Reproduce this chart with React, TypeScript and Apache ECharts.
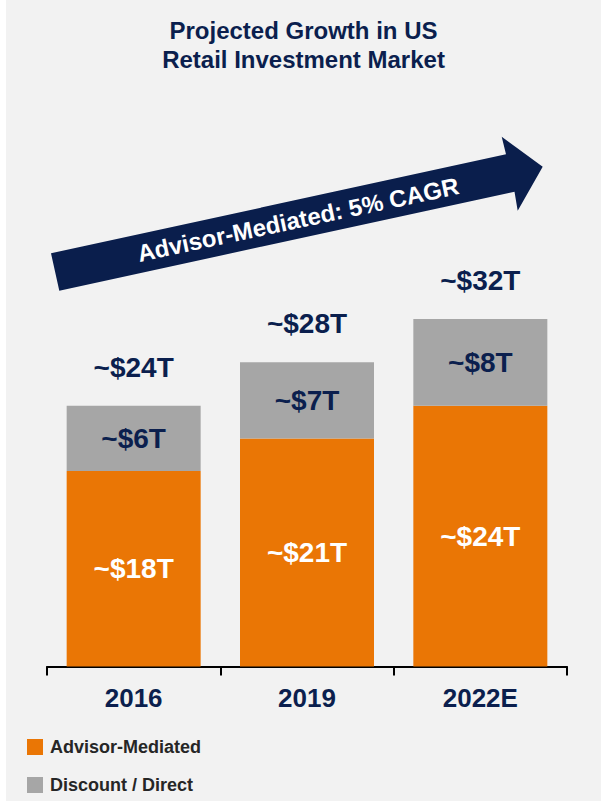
import React, { useEffect, useRef } from "react";
import * as echarts from "echarts";

const categories = ["2016", "2019", "2022E"];
const advisorMediated = [18, 21, 24];
const discountDirect = [6, 7, 8];
const totals = [24, 28, 32];
const seriesNames = ["Advisor-Mediated", "Discount / Direct"];
const titleText = "Projected Growth in US\nRetail Investment Market";
const arrowText = "Advisor-Mediated: 5% CAGR";

const NAVY = "#0b1f4e";
const ORANGE = "#ea7605";
const GRAY = "#a6a6a6";
const FONT = "'Liberation Sans', Arial, sans-serif";

export default function App() {
  const ref = useRef<HTMLDivElement>(null);
  useEffect(() => {
    if (!ref.current) return;
    const chart = echarts.init(ref.current, null, { renderer: "svg" });
    const ox = 6;
    const pts = [
      [51, 253.3],
      [506, 154.3],
      [501.7, 136.7],
      [542.7, 166.7],
      [517.7, 210.7],
      [514.5, 191.7],
      [59.3, 290.7],
    ].map(([x, y]) => [x - ox, y]);
    chart.setOption({
      animation: false,
      backgroundColor: "#f2f2f2",
      textStyle: { fontFamily: FONT },
      title: {
        text: titleText,
        left: "center",
        top: 16,
        padding: 0,
        textStyle: {
          fontFamily: FONT,
          fontSize: 24,
          fontWeight: "bold",
          color: NAVY,
          lineHeight: 29,
        },
      },
      legend: {
        data: seriesNames,
        orient: "vertical",
        left: 27 - ox,
        top: 738,
        padding: 0,
        itemWidth: 16,
        itemHeight: 16,
        itemGap: 20,
        icon: "rect",
        textStyle: {
          fontFamily: FONT,
          fontSize: 18,
          fontWeight: "bold",
          color: "#262626",
          padding: [0, 0, 0, 2],
        },
      },
      grid: { left: 47 - ox, right: 34, top: 232, bottom: 801 - 666.5 },
      xAxis: {
        type: "category",
        data: categories,
        axisLine: { show: true, lineStyle: { color: "#000", width: 2 } },
        axisTick: { show: true, length: 9, lineStyle: { color: "#000", width: 2 } },
        axisLabel: {
          margin: 18,
          fontFamily: FONT,
          fontSize: 26,
          fontWeight: "bold",
          color: NAVY,
          lineHeight: 26,
        },
      },
      yAxis: { type: "value", min: 0, max: 40, show: false, splitLine: { show: false } },
      graphic: [
        {
          type: "polygon",
          shape: { points: pts },
          style: { fill: "#0a1e4c" },
          z: 10,
        },
        {
          type: "text",
          x: 298 - ox,
          y: 219.5,
          rotation: (12 * Math.PI) / 180,
          style: {
            text: arrowText,
            fill: "#ffffff",
            font: `bold 24px ${FONT}`,
            align: "center",
            verticalAlign: "middle",
          },
          z: 11,
        },
      ],
      series: [
        {
          name: seriesNames[0],
          type: "bar",
          stack: "total",
          barWidth: 134,
          data: advisorMediated,
          itemStyle: { color: ORANGE },
          label: {
            show: true,
            position: "inside",
            formatter: (p: any) => `~$${p.value}T`,
            fontFamily: FONT,
            fontSize: 28,
            fontWeight: "bold",
            color: "#ffffff",
          },
        },
        {
          name: seriesNames[1],
          type: "bar",
          stack: "total",
          barWidth: 134,
          data: discountDirect,
          itemStyle: { color: GRAY },
          label: {
            show: true,
            position: "inside",
            formatter: (p: any) => `~$${p.value}T`,
            fontFamily: FONT,
            fontSize: 28,
            fontWeight: "bold",
            color: NAVY,
          },
        },
        {
          name: "Total",
          type: "scatter",
          data: totals,
          symbol: "rect",
          symbolSize: 1,
          itemStyle: { color: "rgba(0,0,0,0)", opacity: 1 },
          label: {
            show: true,
            position: "top",
            distance: 24,
            opacity: 1,
            formatter: (p: any) => `~$${p.value}T`,
            fontFamily: FONT,
            fontSize: 28,
            fontWeight: "bold",
            color: NAVY,
            lineHeight: 28,
          },
        },
      ],
    });
    return () => chart.dispose();
  }, []);
  return (
    <div
      ref={ref}
      style={{ position: "fixed", left: 6, top: 0, width: 595, height: 801 }}
    />
  );
}
